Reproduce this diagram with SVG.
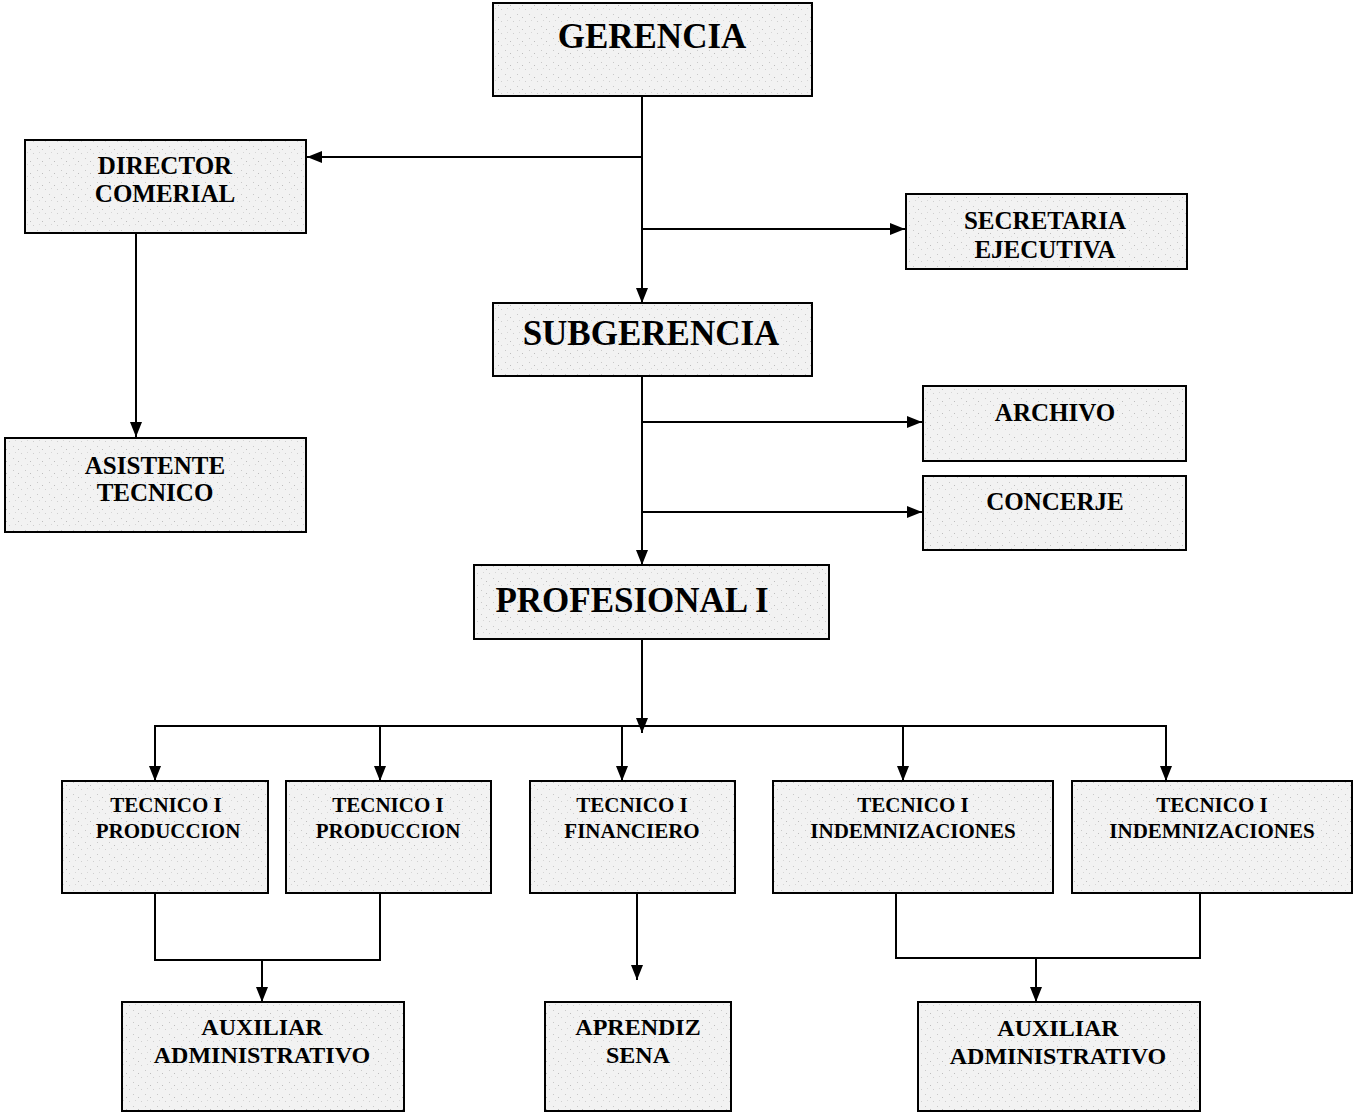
<svg xmlns="http://www.w3.org/2000/svg" width="1354" height="1116" viewBox="0 0 1354 1116">
<style>
.box{fill:url(#speck);stroke:#000;stroke-width:2}
.t{font-family:"Liberation Serif","Times New Roman",serif;font-weight:bold;fill:#000;text-anchor:middle}
.big{font-size:35px}
.mid{font-size:25px}
.sm{font-size:21px}
.bt{font-size:24px}
.ln{fill:none;stroke:#000;stroke-width:2}
</style>
<defs>
<pattern id="speck" width="12" height="12" patternUnits="userSpaceOnUse">
<rect width="12" height="12" fill="#f2f2f2"/>
<rect x="1" y="2" width="1" height="1" fill="#c8c8c8"/>
<rect x="6" y="5" width="1" height="1" fill="#bdbdbd"/>
<rect x="9" y="9" width="1" height="1" fill="#cfcfcf"/>
<rect x="3" y="8" width="1" height="1" fill="#d6d6d6"/>
</pattern>
<marker id="a" viewBox="0 0 10 10" refX="10" refY="5" markerWidth="15" markerHeight="15" markerUnits="userSpaceOnUse" orient="auto">
<path d="M0,1 L10,5 L0,9 z" fill="#000"/>
</marker>
</defs>
<g id="connectors">
<path class="ln" d="M642,96 V303" marker-end="url(#a)"/>
<path class="ln" d="M642,157 H307" marker-end="url(#a)"/>
<path class="ln" d="M642,229 H905" marker-end="url(#a)"/>
<path class="ln" d="M136,233 V437" marker-end="url(#a)"/>
<path class="ln" d="M642,376 V565" marker-end="url(#a)"/>
<path class="ln" d="M642,422 H922" marker-end="url(#a)"/>
<path class="ln" d="M642,512 H922" marker-end="url(#a)"/>
<path class="ln" d="M642,639 V733" marker-end="url(#a)"/>
<path class="ln" d="M155,781 V726 H1166 V781"/>
<path class="ln" d="M155,726 V781" marker-end="url(#a)"/>
<path class="ln" d="M380,726 V781" marker-end="url(#a)"/>
<path class="ln" d="M622,726 V781" marker-end="url(#a)"/>
<path class="ln" d="M903,726 V781" marker-end="url(#a)"/>
<path class="ln" d="M1166,726 V781" marker-end="url(#a)"/>
<path class="ln" d="M155,893 V960 H380 V893"/>
<path class="ln" d="M262,960 V1002" marker-end="url(#a)"/>
<path class="ln" d="M637,893 V980" marker-end="url(#a)"/>
<path class="ln" d="M896,893 V958 H1200 V893"/>
<path class="ln" d="M1036,958 V1002" marker-end="url(#a)"/>
</g>
<g id="gerencia"><rect class="box" x="493" y="3" width="319" height="93"/><text class="t big" x="652" y="48">GERENCIA</text></g>
<g id="director"><rect class="box" x="25" y="140" width="281" height="93"/><text class="t mid" x="165" y="174">DIRECTOR</text><text class="t mid" x="165" y="202">COMERIAL</text></g>
<g id="secretaria"><rect class="box" x="906" y="194" width="281" height="75"/><text class="t mid" x="1045" y="229">SECRETARIA</text><text class="t mid" x="1045" y="258">EJECUTIVA</text></g>
<g id="subgerencia"><rect class="box" x="493" y="303" width="319" height="73"/><text class="t big" x="651" y="345">SUBGERENCIA</text></g>
<g id="asistente"><rect class="box" x="5" y="438" width="301" height="94"/><text class="t mid" x="155" y="474">ASISTENTE</text><text class="t mid" x="155" y="501">TECNICO</text></g>
<g id="archivo"><rect class="box" x="923" y="386" width="263" height="75"/><text class="t mid" x="1055" y="421">ARCHIVO</text></g>
<g id="concerje"><rect class="box" x="923" y="476" width="263" height="74"/><text class="t mid" x="1055" y="510">CONCERJE</text></g>
<g id="profesional"><rect class="box" x="474" y="565" width="355" height="74"/><text class="t big" x="632" y="612">PROFESIONAL I</text></g>
<g id="tec1"><rect class="box" x="62" y="781" width="206" height="112"/><text class="t sm" x="166" y="812">TECNICO I</text><text class="t sm" x="168" y="838">PRODUCCION</text></g>
<g id="tec2"><rect class="box" x="286" y="781" width="205" height="112"/><text class="t sm" x="388" y="812">TECNICO I</text><text class="t sm" x="388" y="838">PRODUCCION</text></g>
<g id="tec3"><rect class="box" x="530" y="781" width="205" height="112"/><text class="t sm" x="632" y="812">TECNICO I</text><text class="t sm" x="632" y="838">FINANCIERO</text></g>
<g id="tec4"><rect class="box" x="773" y="781" width="280" height="112"/><text class="t sm" x="913" y="812">TECNICO I</text><text class="t sm" x="913" y="838">INDEMNIZACIONES</text></g>
<g id="tec5"><rect class="box" x="1072" y="781" width="280" height="112"/><text class="t sm" x="1212" y="812">TECNICO I</text><text class="t sm" x="1212" y="838">INDEMNIZACIONES</text></g>
<g id="aux1"><rect class="box" x="122" y="1002" width="282" height="109"/><text class="t bt" x="262" y="1035">AUXILIAR</text><text class="t bt" x="262" y="1063">ADMINISTRATIVO</text></g>
<g id="aprendiz"><rect class="box" x="545" y="1002" width="186" height="109"/><text class="t bt" x="638" y="1035">APRENDIZ</text><text class="t bt" x="638" y="1063">SENA</text></g>
<g id="aux2"><rect class="box" x="918" y="1002" width="282" height="109"/><text class="t bt" x="1058" y="1036">AUXILIAR</text><text class="t bt" x="1058" y="1064">ADMINISTRATIVO</text></g>
</svg>
